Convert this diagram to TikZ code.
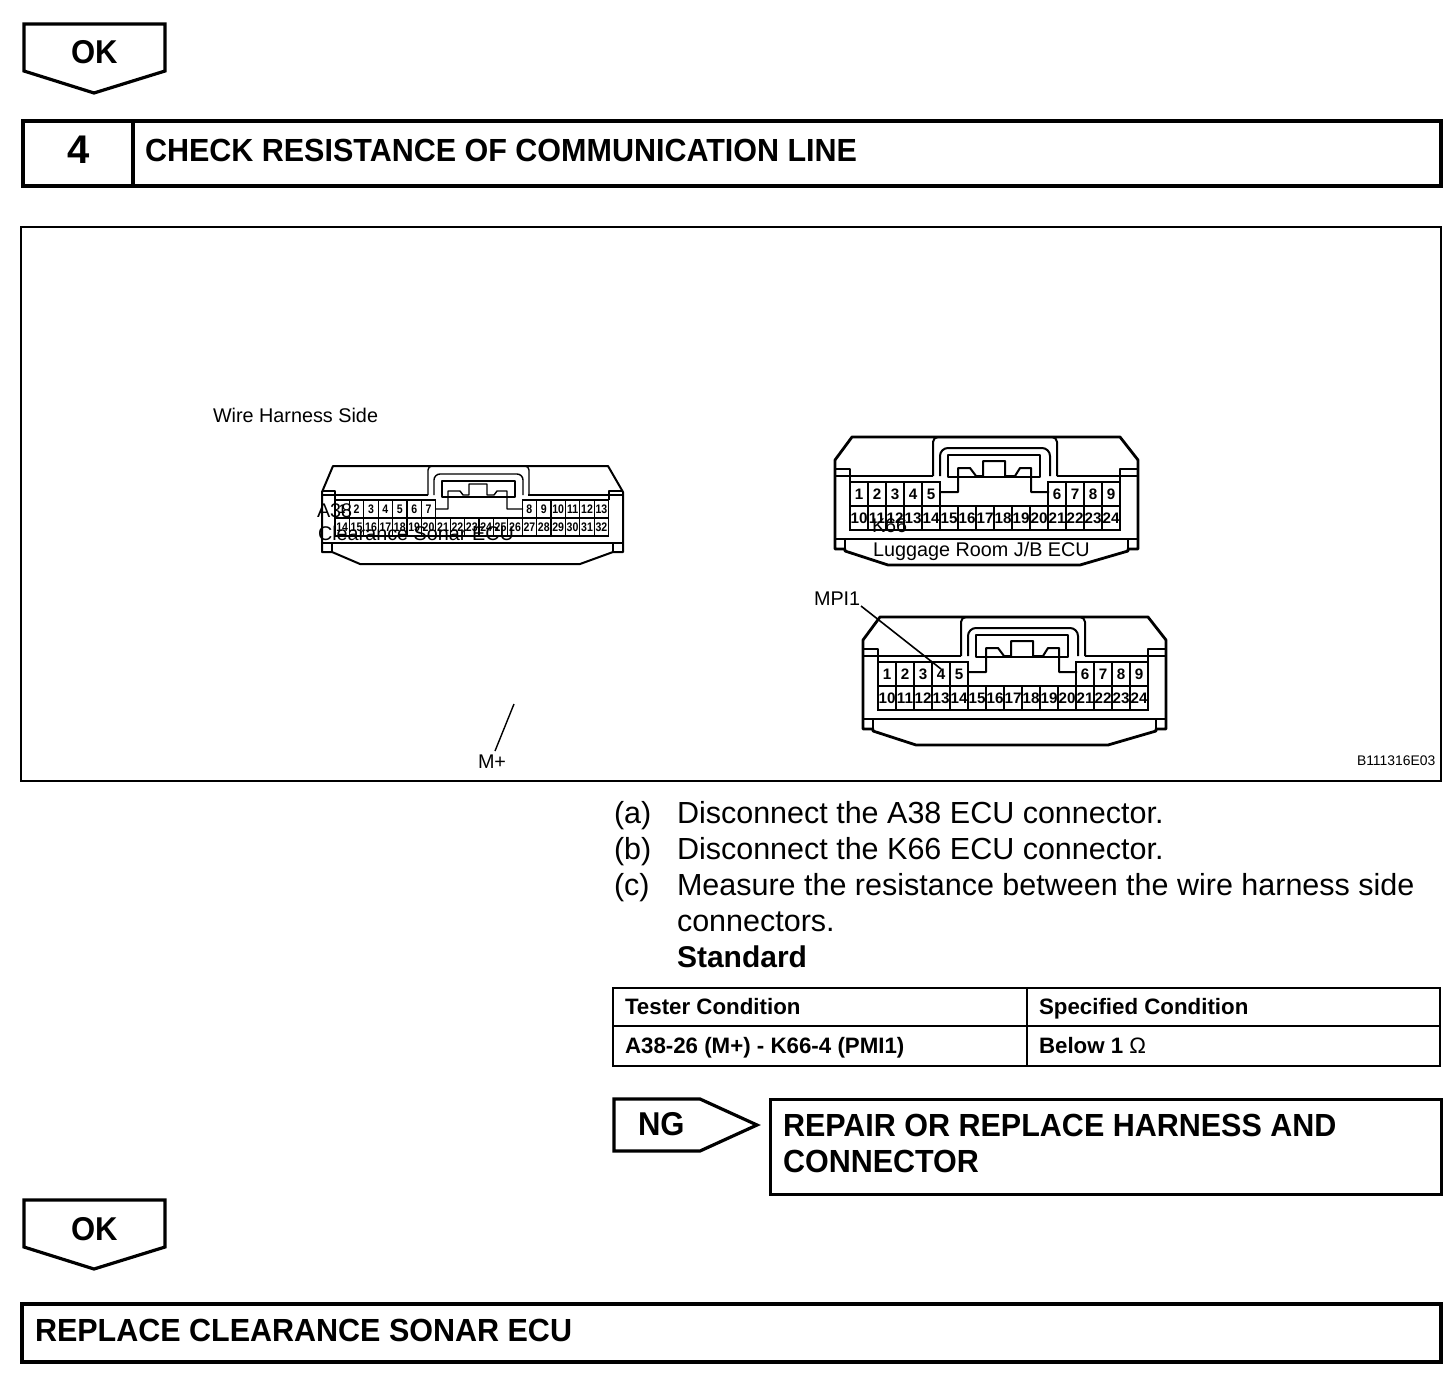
\documentclass[tikz,border=0pt]{standalone}
\usepackage{fontspec}
\usepackage{graphicx}
\setmainfont{Liberation Sans}
\newcommand{\nar}[1]{\scalebox{.953}[1]{#1}}
\tikzset{
 heavy/.style={draw=black,line width=2.4pt,line join=miter},
 tagline/.style={draw=black,line width=1.6pt,line join=miter},
 thinbox/.style={draw=black,line width=1pt},
 conn/.style={draw=black,line width=1pt,line join=round},
 connthin/.style={draw=black,line width=.7pt,line join=round},
 lbl/.style={anchor=base west,inner sep=0pt,outer sep=0pt,text=black},
 tagtxt/.style={lbl,font=\fontsize{16.5}{18}\selectfont\bfseries},
 headtxt/.style={lbl,font=\fontsize{16}{18}\selectfont\bfseries},
 bodytxt/.style={lbl,font=\fontsize{15.25}{18}\selectfont},
 tabtxt/.style={lbl,font=\fontsize{11.15}{14}\selectfont\bfseries},
 smalltxt/.style={lbl,font=\fontsize{9.9}{12}\selectfont},
 tinytxt/.style={lbl,font=\fontsize{6.95}{8}\selectfont},
 pin/.style={draw=black,line width=.6pt,inner sep=0pt,outer sep=0pt,anchor=north west,text=black},
 pinB/.style={pin,minimum width=9pt,minimum height=12pt,font=\fontsize{7.6}{8}\selectfont\bfseries},
 pinA/.style={pin,minimum width=7.2pt,minimum height=9pt,font=\fontsize{6.2}{7}\selectfont\bfseries},
}
\newcommand{\LargeConn}[3]{%
 \begin{scope}[shift={(#1,#2)}]
  \draw[conn,line width=1.4pt] (835,460)--(852,437)--(1120,437)--(1138,460)--(1138,549)--(1128,549)--(1128,551)--(1080,565)--(888,565)--(845,551)--(845,549)--(835,549)--cycle;
  \draw[conn] (835,476)--(933,476) (1057,476)--(1138,476);
  \draw[connthin] (835,469)--(850,469)--(850,482) (1138,469)--(1120,469)--(1120,482);
  \draw[connthin] (835,539)--(1138,539);
  \draw[connthin] (845,539)--(845,549) (1128,539)--(1128,549);
  \draw[conn,rounded corners=2.5pt] (933,476)--(933,437)--(1057,437)--(1057,476);
  \draw[conn,rounded corners=4pt] (940,476)--(940,448)--(1050,448)--(1050,476);
  \draw[conn] (948,455)--(1040,455)--(1040,477)--(948,477)--cycle;
  \draw[conn] (940,492)--(958,492)--(958,468)--(970,468)--(976,476)--(983,476)--(983,461)--(1005,461)--(1005,476)--(1015,476)--(1020,468)--(1031,468)--(1031,492)--(1049,492);
  \foreach \n [count=\i from 0] in {1,2,3,4,5}
    \node[pinB] (#3\n) at (850+18*\i,482) {\n};
  \foreach \n [count=\i from 0] in {6,7,8,9}
    \node[pinB] (#3\n) at (1048+18*\i,482) {\n};
  \foreach \n [count=\i from 0] in {10,...,24}
    \node[pinB] (#3\n) at (850+18*\i,506) {\n};
 \end{scope}}
\begin{document}
\begin{tikzpicture}[x=.5pt,y=-.5pt]
\useasboundingbox (0,0) rectangle (1456,1386);
% top tag
\draw[tagline] (24,24)--(165,24)--(165,71)--(94,93)--(24,71)--cycle;
\node[tagtxt] (oka) at (71,64) {\scalebox{.94}[1]{OK}};
% heading
\draw[heavy] (23,121) rectangle (1441,186);
\draw[heavy] (133,121)--(133,186);
\node[lbl,font=\fontsize{20}{22}\selectfont\bfseries] (num) at (67,163) {4};
\node[headtxt] (head) at (145,162) {\nar{CHECK RESISTANCE OF COMMUNICATION LINE}};
% picture frame
\draw[thinbox] (21,227) rectangle (1441,781);
\node[smalltxt] (wire) at (213,422) {Wire Harness Side};
% A38 connector
\draw[conn] (322,492)--(333,466)--(608,466)--(623,492)--(623,552)--(613,552)--(580,564)--(360,564)--(332,552)--(322,552)--cycle;
\draw[connthin] (322,495)--(428,495) (528,495)--(623,495);
\draw[connthin] (322,491)--(335,491)--(335,500) (623,491)--(609,491)--(609,500);
\draw[connthin] (322,543)--(623,543);
\draw[connthin] (332,543)--(332,552) (613,543)--(613,552);
\draw[connthin,rounded corners=2pt] (428,495)--(428,466)--(529,466)--(529,495);
\draw[connthin,rounded corners=3pt] (434,495)--(434,474)--(523,474)--(523,495);
\draw[connthin] (442,481)--(515,481)--(515,497)--(442,497)--cycle;
\draw[connthin] (436,509)--(448,509)--(448,491)--(460,491)--(463,495)--(469,495)--(469,484)--(487,484)--(487,495)--(494,495)--(497,491)--(507,491)--(507,509)--(523,509);
\foreach \n [count=\i from 0] in {1,...,7}
  \node[pinA] (a\n) at (335+14.4*\i,500) {\scalebox{.85}[1]{\n}};
\foreach \n [count=\i from 0] in {8,...,13}
  \node[pinA] (a\n) at (522.2+14.4*\i,500) {\scalebox{.85}[1]{\n}};
\foreach \n [count=\i from 0] in {14,...,32}
  \node[pinA] (a\n) at (335+14.4*\i,518) {\scalebox{.85}[1]{\n}};
\node[smalltxt] (a38) at (317,517) {A38};
\node[smalltxt] (sonar) at (318,540) {Clearance Sonar ECU};
% K66 connector
\LargeConn{0}{0}{k}
\node[smalltxt] (k66) at (872,532) {K66};
\node[smalltxt] (jb) at (873,556) {Luggage Room J/B ECU};
% MPI1 connector
\LargeConn{28}{180}{m}
\node[smalltxt] (mpi) at (814,605) {MPI1};
\coordinate (mpifrom) at (861,606);
\coordinate (mpitip) at (941,669);
\draw[line width=.8pt] (mpifrom)--(mpitip);
% M+
\node[smalltxt] (mplus) at (478,768) {M+};
\coordinate (mfrom) at (514,704);
\coordinate (mto) at (495,751);
\draw[line width=.7pt] (mfrom)--(mto);
\node[tinytxt] (code) at (1357,765) {B111316E03};
% steps
\node[bodytxt] (la) at (614,823) {(a)};
\node[bodytxt] (ta) at (677,823) {Disconnect the A38 ECU connector.};
\node[bodytxt] (lb) at (614,859) {(b)};
\node[bodytxt] (tb) at (677,859) {Disconnect the K66 ECU connector.};
\node[bodytxt] (lc) at (614,895) {(c)};
\node[bodytxt] (tc) at (677,895) {Measure the resistance between the wire harness side};
\node[bodytxt] (td) at (677,931) {connectors.};
\node[bodytxt,font=\fontsize{15}{18}\selectfont\bfseries] (std) at (677,967) {Standard};
% table
\draw[thinbox] (613,988) rectangle (1440,1066);
\draw[thinbox] (613,1026)--(1440,1026);
\draw[thinbox] (1027,988)--(1027,1066);
\node[tabtxt] (h1) at (625,1014) {Tester Condition};
\node[tabtxt] (h2) at (1039,1014) {Specified Condition};
\node[tabtxt] (c1) at (625,1053) {A38-26 (M+) - K66-4 (PMI1)};
\node[tabtxt] (c2) at (1039,1053) {Below 1 {\mdseries Ω}};
% NG
\draw[tagline] (614,1099)--(700,1099)--(757,1125)--(700,1151)--(614,1151)--cycle;
\node[tagtxt] (ng) at (638,1135) {\scalebox{.94}[1]{NG}};
\draw[line width=1.5pt] (770,1099) rectangle (1441,1194);
\node[headtxt] (rep1) at (783,1136) {\nar{REPAIR OR REPLACE HARNESS AND}};
\node[headtxt] (rep2) at (783,1172) {\nar{CONNECTOR}};
% lower tag
\draw[tagline] (24,1200)--(165,1200)--(165,1247)--(94,1269)--(24,1247)--cycle;
\node[tagtxt] (okb) at (71,1240) {\scalebox{.94}[1]{OK}};
% final
\draw[line width=2pt] (22,1304) rectangle (1441,1362);
\node[headtxt] (final) at (35,1341) {\nar{REPLACE CLEARANCE SONAR ECU}};
\end{tikzpicture}
\end{document}
